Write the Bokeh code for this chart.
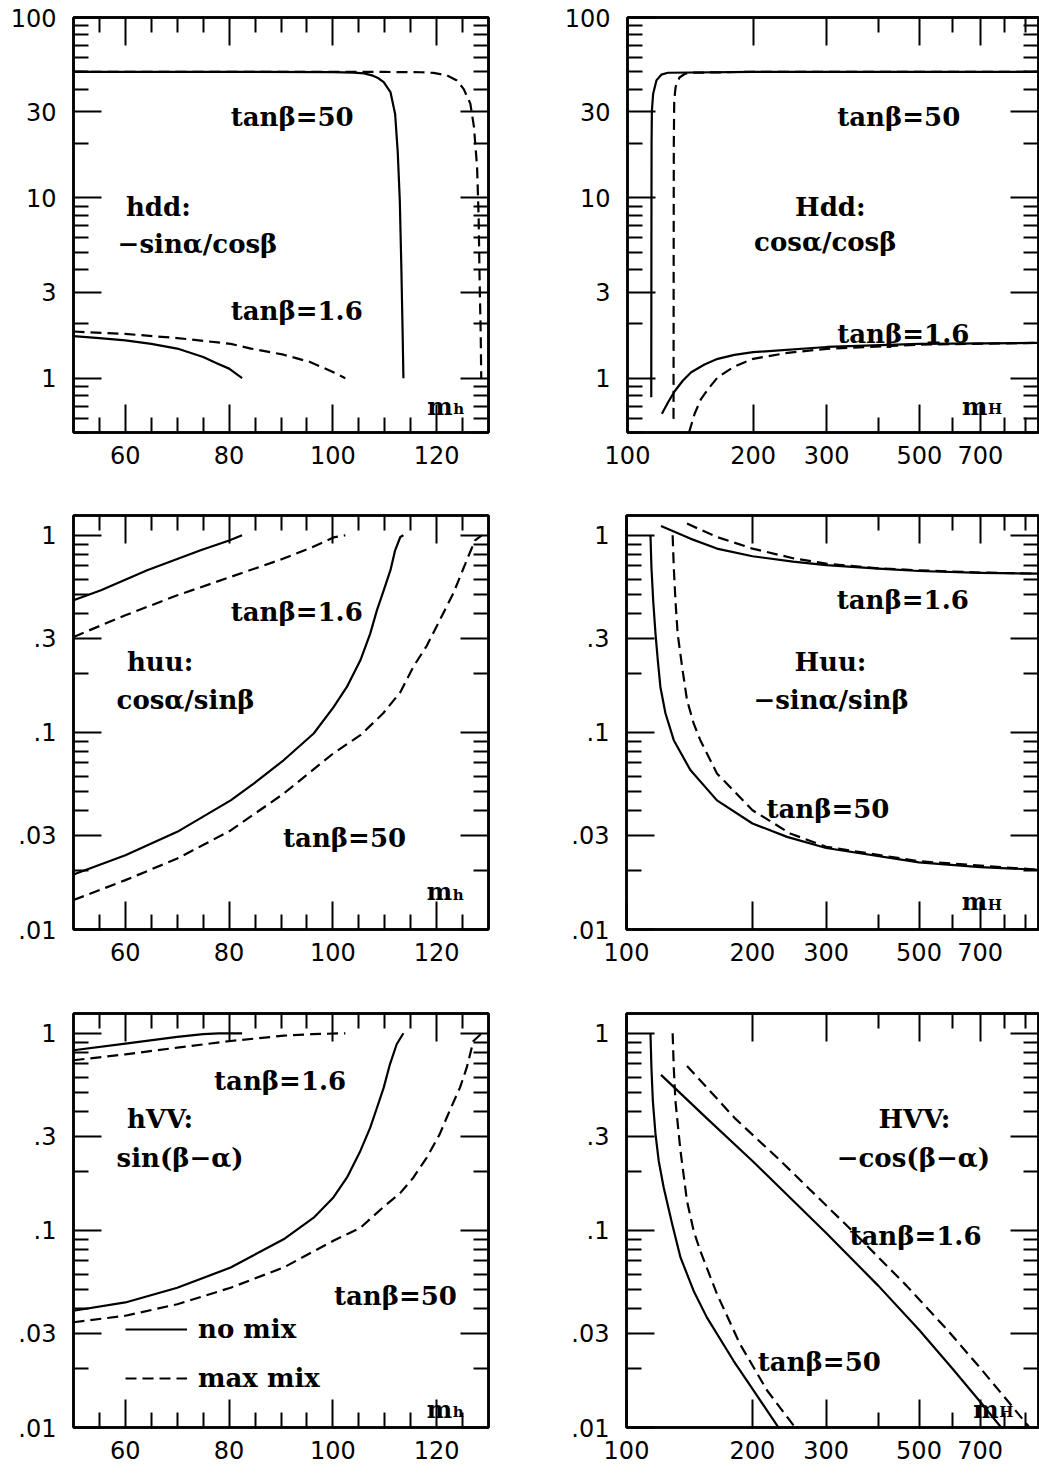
from bokeh.plotting import figure
from bokeh.layouts import row, column
from bokeh.models import (FixedTicker, LogAxis, LinearAxis, CustomJSTickFormatter,
                          ColumnDataSource, Legend, LegendItem)
from bokeh.core.properties import value
from bokeh.embed import file_html
from bokeh.resources import INLINE

# ---------------- tick definitions ----------------
LIGHT_X_MAJOR = [60, 80, 100, 120]
LIGHT_X_LABELS = ["60", "80", "100", "120"]
LIGHT_X_MINOR = [55, 65, 70, 75, 85, 90, 95, 105, 110, 115, 125]
HEAVY_X_MAJOR = [100, 200, 300, 500, 700]
HEAVY_X_LABELS = ["100", "200", "300", "500", "700"]
HEAVY_X_MINOR = [400, 600, 800, 900]
DD_Y_MAJOR = [1, 3, 10, 30, 100]
DD_Y_LABELS = ["1", "3", "10", "30", "100"]
DD_Y_MINOR = [0.5, 0.6, 0.7, 0.8, 0.9, 2, 4, 5, 6, 7, 8, 9, 20, 40, 50, 60, 70, 80, 90]
UV_Y_MAJOR = [0.01, 0.03, 0.1, 0.3, 1]
UV_Y_LABELS = [".01", ".03", ".1", ".3", "1"]
UV_Y_MINOR = [0.02, 0.04, 0.05, 0.06, 0.07, 0.08, 0.09, 0.2, 0.4, 0.5, 0.6, 0.7, 0.8, 0.9]

LIGHT_X_RANGE = (50, 130)
HEAVY_X_RANGE = (100, 965)
DD_Y_RANGE = (0.5, 100)
UV_Y_RANGE = (0.01, 1.26)

# ---------------- curve data: (mass, coupling) ----------------
# hdd : -sin(alpha)/cos(beta)
hdd_nomix_tb50_m = [50, 80, 100, 104, 106, 107.5, 108.8, 109.8, 111.1, 112.0, 112.5, 112.9, 113.2, 113.45, 113.6]
hdd_nomix_tb50_v = [50, 50, 49.8, 49.5, 49, 47.8, 46, 43.8, 38.6, 29.2, 18, 9.7, 4.1, 1.76, 1.0]
hdd_maxmix_tb50_m = [50, 80, 110, 117, 119.4, 122, 123.9, 125.2, 126.5, 127.2, 127.8, 128.1, 128.3, 128.5, 128.6]
hdd_maxmix_tb50_v = [50, 50, 49.9, 49.7, 49.3, 47.7, 44.8, 40.2, 33.3, 24.7, 14.8, 7.8, 3.33, 1.76, 1.0]
hdd_nomix_tb16_m = [50, 55, 60, 65, 70, 75, 77.6, 80, 82.5]
hdd_nomix_tb16_v = [1.71, 1.67, 1.62, 1.55, 1.46, 1.31, 1.21, 1.13, 1.0]
hdd_maxmix_tb16_m = [50, 60, 70, 80.3, 84.2, 90.5, 95.6, 100.1, 102.4]
hdd_maxmix_tb16_v = [1.815, 1.76, 1.67, 1.55, 1.46, 1.35, 1.23, 1.08, 1.0]

# Hdd : cos(alpha)/cos(beta)
Hdd_nomix_tb50_m = [114.0, 114.1, 114.2, 114.4, 115.2, 117.3, 120.5, 125, 200, 965]
Hdd_nomix_tb50_v = [0.785, 5, 20, 30.5, 37.8, 44.8, 48.2, 49.4, 50, 50]
Hdd_maxmix_tb50_m = [128.9, 129.0, 129.1, 129.4, 130.4, 133.2, 137, 142, 200, 965]
Hdd_maxmix_tb50_v = [0.595, 5, 20, 34.7, 41.2, 46.5, 48.6, 49.4, 50, 50]
Hdd_nomix_tb16_m = [120.9, 125.1, 129.7, 135.8, 142.1, 152.9, 164.5, 180.3, 200, 300, 500, 965]
Hdd_nomix_tb16_v = [0.635, 0.736, 0.847, 0.971, 1.08, 1.191, 1.281, 1.348, 1.394, 1.49, 1.55, 1.57]
Hdd_maxmix_tb16_m = [140.4, 144.8, 150.1, 157.2, 164.5, 180.3, 200, 241.9, 300, 500, 965]
Hdd_maxmix_tb16_v = [0.5, 0.635, 0.769, 0.891, 1.013, 1.16, 1.281, 1.383, 1.455, 1.535, 1.57]

# huu : cos(alpha)/sin(beta)
huu_nomix_tb16_m = [50, 55.3, 64.2, 74.5, 80, 82.5]
huu_nomix_tb16_v = [0.468, 0.526, 0.665, 0.839, 0.94, 1.0]
huu_maxmix_tb16_m = [50, 60, 70, 80.3, 90.5, 96, 100.1, 102.4]
huu_maxmix_tb16_v = [0.305, 0.393, 0.496, 0.615, 0.762, 0.87, 0.975, 1.0]
huu_nomix_tb50_m = [50, 60, 70, 80.3, 84.8, 90.5, 96.3, 100.1, 102.7, 105.3, 107.2, 108.5, 109.8, 111.1, 112.0, 113, 113.6]
huu_nomix_tb50_v = [0.019, 0.0238, 0.0313, 0.0452, 0.0551, 0.0722, 0.0987, 0.134, 0.170, 0.232, 0.317, 0.417, 0.526, 0.665, 0.839, 0.98, 1.0]
huu_maxmix_tb50_m = [50, 60, 70, 80.3, 90.5, 100.1, 105.3, 109.7, 113, 115.5, 118.1, 120.6, 123.2, 125.8, 127.4, 128.7]
huu_maxmix_tb50_v = [0.0141, 0.0178, 0.0229, 0.0318, 0.0489, 0.0783, 0.0968, 0.125, 0.16, 0.215, 0.275, 0.371, 0.506, 0.747, 0.943, 1.0]

# Huu : -sin(alpha)/sin(beta)
Huu_nomix_tb50_m = [114.1, 114.7, 115.8, 117.3, 118.8, 120.5, 123.9, 129.7, 142.1, 164.5, 200, 241.9, 300, 500, 700, 965]
Huu_nomix_tb50_v = [1.0, 0.691, 0.468, 0.317, 0.232, 0.170, 0.125, 0.0913, 0.0644, 0.0452, 0.0345, 0.0295, 0.0259, 0.0219, 0.0207, 0.0201]
Huu_maxmix_tb50_m = [128.9, 129.7, 130.9, 132.5, 135.8, 139.5, 144.7, 150.1, 164.5, 200, 246.1, 300, 500, 965]
Huu_maxmix_tb50_v = [1.0, 0.691, 0.468, 0.317, 0.215, 0.146, 0.111, 0.0913, 0.0619, 0.0403, 0.0307, 0.0263, 0.0222, 0.0201]
Huu_nomix_tb16_m = [120.9, 142, 164.4, 200, 250, 300, 400, 500, 700, 965]
Huu_nomix_tb16_v = [1.115, 0.962, 0.856, 0.783, 0.735, 0.705, 0.677, 0.659, 0.645, 0.639]
Huu_maxmix_tb16_m = [139.5, 164.4, 200, 250, 300, 400, 500, 700, 965]
Huu_maxmix_tb16_v = [1.146, 0.98, 0.856, 0.765, 0.718, 0.680, 0.664, 0.647, 0.639]

# hVV : sin(beta-alpha)
hVV_nomix_tb16_m = [50, 60, 70, 75, 78, 82.5]
hVV_nomix_tb16_v = [0.82, 0.886, 0.958, 0.99, 1.0, 1.0]
hVV_maxmix_tb16_m = [50, 60, 70, 80.3, 90.5, 96, 102.4]
hVV_maxmix_tb16_v = [0.73, 0.782, 0.845, 0.914, 0.972, 0.99, 1.0]
hVV_nomix_tb50_m = [50, 60, 70, 80.3, 90.5, 96.3, 100.1, 102.7, 105.3, 107.2, 108.5, 109.8, 111, 112.3, 113.6]
hVV_nomix_tb50_v = [0.0391, 0.0431, 0.0512, 0.0648, 0.0901, 0.116, 0.147, 0.185, 0.253, 0.332, 0.419, 0.53, 0.696, 0.88, 1.0]
hVV_maxmix_tb50_m = [50, 60, 70, 80.3, 90.5, 100.1, 105.3, 109.7, 113, 115.5, 118.1, 120.6, 122.5, 124.5, 125.8, 127.1, 128.7]
hVV_maxmix_tb50_v = [0.0342, 0.0369, 0.0422, 0.0512, 0.0648, 0.0886, 0.103, 0.131, 0.155, 0.185, 0.234, 0.308, 0.404, 0.53, 0.669, 0.914, 1.0]

# HVV : -cos(beta-alpha)
HVV_nomix_tb50_m = [114.1, 114.7, 115.6, 117.3, 119.4, 122.7, 128.6, 134.6, 144.7, 155.6, 180.2, 200, 230.8]
HVV_nomix_tb50_v = [1.0, 0.669, 0.454, 0.308, 0.225, 0.165, 0.1075, 0.0729, 0.0493, 0.0362, 0.0218, 0.0157, 0.01]
HVV_maxmix_tb50_m = [128.9, 129.7, 130.9, 132.1, 134.6, 139.5, 144.7, 150.1, 164.5, 186.7, 216.8, 252.9]
HVV_maxmix_tb50_v = [1.0, 0.669, 0.454, 0.373, 0.253, 0.141, 0.0994, 0.0786, 0.0476, 0.0265, 0.0154, 0.01]
HVV_nomix_tb16_m = [120.9, 155.6, 200, 300, 400, 500, 600, 700, 786]
HVV_nomix_tb16_v = [0.615, 0.37, 0.225, 0.097, 0.0523, 0.0313, 0.0200, 0.0135, 0.01]
HVV_maxmix_tb16_m = [139.5, 181.7, 233.6, 350.4, 467.2, 584, 700.8, 817.6, 918]
HVV_maxmix_tb16_v = [0.683, 0.37, 0.225, 0.097, 0.0523, 0.0313, 0.0200, 0.0135, 0.01]

# ---------------- panel annotations ----------------
TL_TEXT = ["tanβ=50", "hdd:", "−sinα/cosβ", "tanβ=1.6"]
TL_X = [80.3, 60.1, 58.5, 80.3]
TL_Y = [28.0, 8.88, 5.56, 2.37]
TR_TEXT = ["tanβ=50", "Hdd:", "cosα/cosβ", "tanβ=1.6"]
TR_X = [318, 252, 201, 318]
TR_Y = [28.0, 8.88, 5.68, 1.76]
ML_TEXT = ["tanβ=1.6", "huu:", "cosα/sinβ", "tanβ=50"]
ML_X = [80.3, 60.3, 58.3, 90.4]
ML_Y = [0.408, 0.228, 0.1456, 0.029]
MR_TEXT = ["tanβ=1.6", "Huu:", "−sinα/sinβ", "tanβ=50"]
MR_X = [318, 252, 201, 216]
MR_Y = [0.468, 0.228, 0.1456, 0.0411]
BL_TEXT = ["tanβ=1.6", "hVV:", "sin(β−α)", "tanβ=50"]
BL_X = [77.1, 60.3, 58.3, 100.2]
BL_Y = [0.573, 0.366, 0.234, 0.0466]
BR_TEXT = ["HVV:", "−cos(β−α)", "tanβ=1.6", "tanβ=50"]
BR_X = [400, 318, 341, 206]
BR_Y = [0.366, 0.234, 0.0938, 0.0214]

# mass-axis label positions (m with subscript)
MASS_SUB = ["h", "H", "h", "H", "h", "H"]
MASS_X = [118.2, 633, 118.1, 633, 118.1, 674]
MASS_Y = [0.697, 0.697, 0.0155, 0.0138, 0.0124, 0.0124]

SERIF = "DejaVu Serif"
SANS = "DejaVu Sans"
DASH = "11 6"
LW = 2.2
ANN_SIZE = "26px"
ANN_STYLE = "bold"


def fmt(vals, labs):
    return CustomJSTickFormatter(args=dict(vals=vals, labs=labs), code="""
        for (let i = 0; i < vals.length; i++) {
            if (Math.abs(tick - vals[i]) <= 1e-6 * Math.abs(vals[i])) { return labs[i]; }
        }
        return '';
    """)


def style_axis(ax, major, minor, labels, show):
    ax.ticker = FixedTicker(ticks=major, minor_ticks=minor)
    ax.major_tick_in = 28
    ax.major_tick_out = 0
    ax.minor_tick_in = 15
    ax.minor_tick_out = 0
    ax.major_tick_line_width = 2
    ax.minor_tick_line_width = 2
    ax.major_tick_line_color = "black"
    ax.minor_tick_line_color = "black"
    ax.axis_line_width = 2.5
    ax.axis_line_color = "black"
    if show:
        ax.formatter = fmt(major, labels)
        ax.major_label_text_font = SANS
        ax.major_label_text_font_size = "24px"
        ax.major_label_text_color = "black"
    else:
        ax.formatter = CustomJSTickFormatter(code="return '';")
        ax.major_label_text_font_size = "0px"
        ax.major_label_standoff = 0


def panel(heavy, dd, width, height, bl, br, bt, bb):
    p = figure(width=width, height=height,
               x_axis_type="log" if heavy else "linear", y_axis_type="log",
               x_range=HEAVY_X_RANGE if heavy else LIGHT_X_RANGE,
               y_range=DD_Y_RANGE if dd else UV_Y_RANGE,
               output_backend="svg", toolbar_location=None,
               min_border_left=bl, min_border_right=br,
               min_border_top=bt, min_border_bottom=bb)
    p.grid.visible = False
    p.outline_line_color = "black"
    p.outline_line_width = 2.5
    p.background_fill_color = "white"
    p.border_fill_color = "white"
    top = LogAxis() if heavy else LinearAxis()
    p.add_layout(top, "above")
    right = LogAxis()
    p.add_layout(right, "right")
    xm, xmin, xl = (HEAVY_X_MAJOR, HEAVY_X_MINOR, HEAVY_X_LABELS) if heavy else (LIGHT_X_MAJOR, LIGHT_X_MINOR, LIGHT_X_LABELS)
    ym, ymin, yl = (DD_Y_MAJOR, DD_Y_MINOR, DD_Y_LABELS) if dd else (UV_Y_MAJOR, UV_Y_MINOR, UV_Y_LABELS)
    style_axis(p.below[0], xm, xmin, xl, True)
    style_axis(top, xm, xmin, xl, False)
    style_axis(p.left[0], ym, ymin, yl, True)
    style_axis(right, ym, ymin, yl, False)
    p.below[0].major_label_standoff = 13
    p.left[0].major_label_standoff = 17
    return p


def curves(p, pairs):
    rs = []
    for (m, v, dashed) in pairs:
        r = p.line(m, v, line_color="black", line_width=LW, line_join="round",
                   line_dash=DASH if dashed else "solid")
        rs.append(r)
    return rs


def labels(p, texts, xs, ys, idx):
    src = ColumnDataSource(dict(x=xs, y=ys, text=texts))
    p.text(x="x", y="y", text="text", source=src, text_font=value(SERIF),
           text_font_size=ANN_SIZE, text_font_style=ANN_STYLE, text_align="left",
           text_baseline="alphabetic", text_color="black")
    msrc = ColumnDataSource(dict(x=[MASS_X[idx]], y=[MASS_Y[idx]], m=["m"], s=[MASS_SUB[idx]]))
    p.text(x="x", y="y", text="m", source=msrc, text_font=value(SERIF),
           text_font_size="24px", text_font_style="bold", text_align="left",
           text_baseline="alphabetic", text_color="black")
    p.text(x="x", y="y", text="s", source=msrc, text_font=value(SERIF),
           text_font_size="15px", text_font_style="bold", text_align="left",
           text_baseline="alphabetic", text_color="black", x_offset=26, y_offset=3)


LW_W, RW_W = 561, 478
H1, H2, H3 = 495, 498, 480

tl = panel(False, True, LW_W, H1, 73, 73, 17, 63)
curves(tl, [(hdd_nomix_tb50_m, hdd_nomix_tb50_v, False), (hdd_maxmix_tb50_m, hdd_maxmix_tb50_v, True),
            (hdd_nomix_tb16_m, hdd_nomix_tb16_v, False), (hdd_maxmix_tb16_m, hdd_maxmix_tb16_v, True)])
labels(tl, TL_TEXT, TL_X, TL_Y, 0)

tr = panel(True, True, RW_W, H1, 65, 1, 17, 63)
curves(tr, [(Hdd_nomix_tb50_m, Hdd_nomix_tb50_v, False), (Hdd_maxmix_tb50_m, Hdd_maxmix_tb50_v, True),
            (Hdd_nomix_tb16_m, Hdd_nomix_tb16_v, False), (Hdd_maxmix_tb16_m, Hdd_maxmix_tb16_v, True)])
labels(tr, TR_TEXT, TR_X, TR_Y, 1)

ml = panel(False, False, LW_W, H2, 73, 73, 20, 64)
curves(ml, [(huu_nomix_tb16_m, huu_nomix_tb16_v, False), (huu_maxmix_tb16_m, huu_maxmix_tb16_v, True),
            (huu_nomix_tb50_m, huu_nomix_tb50_v, False), (huu_maxmix_tb50_m, huu_maxmix_tb50_v, True)])
labels(ml, ML_TEXT, ML_X, ML_Y, 2)

mr = panel(True, False, RW_W, H2, 65, 1, 20, 64)
curves(mr, [(Huu_nomix_tb50_m, Huu_nomix_tb50_v, False), (Huu_maxmix_tb50_m, Huu_maxmix_tb50_v, True),
            (Huu_nomix_tb16_m, Huu_nomix_tb16_v, False), (Huu_maxmix_tb16_m, Huu_maxmix_tb16_v, True)])
labels(mr, MR_TEXT, MR_X, MR_Y, 3)

bl = panel(False, False, LW_W, H3, 73, 73, 20, 46)
bl_r = curves(bl, [(hVV_nomix_tb16_m, hVV_nomix_tb16_v, False), (hVV_maxmix_tb16_m, hVV_maxmix_tb16_v, True),
                   (hVV_nomix_tb50_m, hVV_nomix_tb50_v, False), (hVV_maxmix_tb50_m, hVV_maxmix_tb50_v, True)])
labels(bl, BL_TEXT, BL_X, BL_Y, 4)
legend = Legend(items=[LegendItem(label="no mix", renderers=[bl_r[2]]),
                       LegendItem(label="max mix", renderers=[bl_r[3]])],
                location=(52, 32), orientation="vertical",
                border_line_color=None, background_fill_alpha=0, padding=0, margin=0,
                spacing=15, glyph_width=62, glyph_height=34, label_height=34,
                label_standoff=11, label_text_font=SERIF, label_text_font_size=ANN_SIZE,
                label_text_font_style=ANN_STYLE, label_text_color="black")
bl.add_layout(legend)

br = panel(True, False, RW_W, H3, 65, 1, 20, 46)
curves(br, [(HVV_nomix_tb50_m, HVV_nomix_tb50_v, False), (HVV_maxmix_tb50_m, HVV_maxmix_tb50_v, True),
            (HVV_nomix_tb16_m, HVV_nomix_tb16_v, False), (HVV_maxmix_tb16_m, HVV_maxmix_tb16_v, True)])
labels(br, BR_TEXT, BR_X, BR_Y, 5)

layout = column(row(tl, tr), row(ml, mr), row(bl, br))
open("out.html", "w").write(file_html(layout, INLINE))
